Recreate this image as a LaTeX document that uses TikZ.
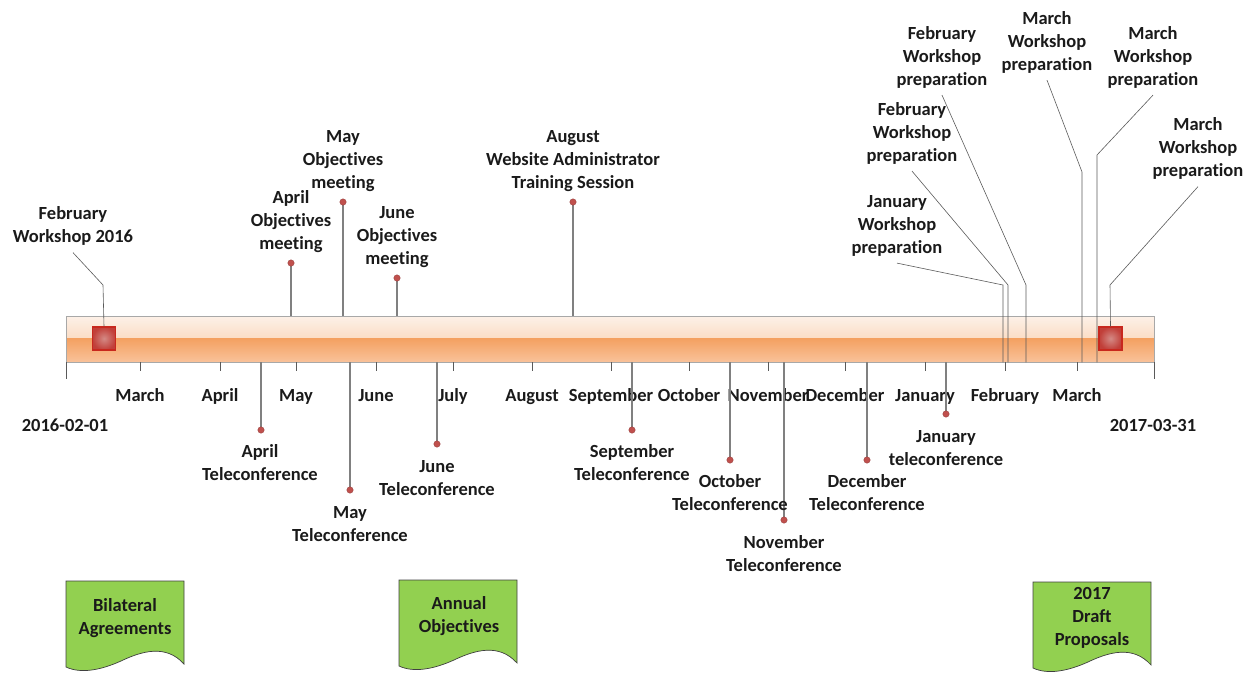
\documentclass[tikz,border=0pt]{standalone}
\usepackage{fontspec}
\setmainfont{Carlito}[RawFeature=-liga]
\definecolor{stemgray}{HTML}{808080}
\definecolor{callgray}{HTML}{5A5A5A}
\definecolor{dotred}{HTML}{C0504D}
\definecolor{barline}{HTML}{A8A8A8}
\definecolor{barA}{HTML}{FDF1E8}
\definecolor{barB}{HTML}{F8C7A0}
\definecolor{barC}{HTML}{F4A060}
\definecolor{barD}{HTML}{F9C29A}
\definecolor{sqin}{HTML}{D48A85}
\definecolor{sqout}{HTML}{C13F39}
\definecolor{sqline}{HTML}{C8281E}
\definecolor{docgreen}{HTML}{92D050}
\definecolor{txt}{HTML}{1A1A1A}
\tikzset{
  lbl/.style={font=\bfseries\fontsize{18.5}{23}\selectfont, align=center, inner sep=0pt, anchor=base, text=txt},
  doclbl/.style={font=\bfseries\fontsize{18.5}{23}\selectfont, align=center, inner sep=0pt, anchor=base, text=txt},
  stem/.style={draw=stemgray, line width=1.1pt},
  callout/.style={draw=callgray, line width=0.6pt},
  tickline/.style={draw=callgray, line width=0.9pt},
  evdot/.style={circle, fill=dotred, draw=dotred!75!black, line width=0.3pt, inner sep=0pt, minimum size=6.5pt},
  sq/.style={rectangle, inner color=sqin, outer color=sqout, draw=sqline, line width=1.2pt, minimum width=23pt, minimum height=23pt, inner sep=0pt},
  barbox/.style={rectangle, draw=barline, line width=0.8pt, minimum width=1088pt, minimum height=46pt, inner sep=0pt,
    path picture={
      \shade[top color=barA, bottom color=barB] (path picture bounding box.north west) rectangle ([yshift=1pt]path picture bounding box.east);
      \shade[top color=barC, bottom color=barD] ([yshift=1pt]path picture bounding box.west) rectangle (path picture bounding box.south east);
    }},
  docshape/.pic={
    \draw[fill=docgreen, draw=black!75, line width=0.7pt]
      (0,0) -- (118,0) -- (118,83)
      .. controls (100,63) and (76,70) .. (55,80)
      .. controls (35,89) and (15,93) .. (0,86) -- cycle;
  }
}
\begin{document}
\begin{tikzpicture}[x=1pt,y=-1pt]
\useasboundingbox (0,0) rectangle (1250,675);

% ---------- bar ----------
\node[barbox] (bar) at (610,339) {};

% ---------- month ticks and labels ----------
\coordinate (tstart) at (66,362);
\coordinate (tend) at (1154,362);
\draw[tickline] (tstart) -- ++(0,17);
\draw[tickline] (tend) -- ++(0,17);
\foreach \x/\m/\n in {140/March/mar, 220/April/apr, 296/May/may, 376/June/jun, 453/July/jul, 532/August/aug, 611/September/sep, 689/October/oct, 768/November/nov, 845/December/dec, 925/January/jan, 1005/February/feb, 1077/March/marb}{
  \coordinate (t\n) at (\x,362);
  \draw[tickline] (t\n) -- ++(0,9);
  \node[lbl] (m\n) at (\x,401) {\m};
}
\node[lbl] (dstart) at (65,431) {2016-02-01};
\node[lbl] (dend) at (1153,431) {2017-03-31};

% ---------- events above the bar ----------
\coordinate (aprObjD) at (291,263);
\coordinate (mayObjD) at (343,202);
\coordinate (junObjD) at (397,278);
\coordinate (augD) at (573,202);
\draw[stem] (aprObjD) -- (aprObjD |- bar.north);
\draw[stem] (mayObjD) -- (mayObjD |- bar.north);
\draw[stem] (junObjD) -- (junObjD |- bar.north);
\draw[stem] (augD) -- (augD |- bar.north);
\node[evdot] (aprObjDot) at (aprObjD) {};
\node[evdot] (mayObjDot) at (mayObjD) {};
\node[evdot] (junObjDot) at (junObjD) {};
\node[evdot] (augDot) at (augD) {};
\node[lbl] (aprObj) at (291,249) {April\\Objectives\\meeting};
\node[lbl] (mayObj) at (343,188) {May\\Objectives\\meeting};
\node[lbl] (junObj) at (397,264) {June\\Objectives\\meeting};
\node[lbl] (aug) at (573,188) {August\\Website Administrator\\Training Session};

% ---------- events below the bar ----------
\foreach \n/\x/\y in {aprT/261/430, mayT/350/490, junT/437/444, sepT/632/430, octT/730/460, novT/784/520, decT/867/460, janT/946/414}{
  \coordinate (\n D) at (\x,\y);
  \draw[stem] (\n D) -- (\n D |- bar.south);
  \node[evdot] (\n Dot) at (\n D) {};
}
\node[lbl] (aprT) at (260,480) {April\\Teleconference};
\node[lbl] (mayT) at (350,541) {May\\Teleconference};
\node[lbl] (junT) at (437,495) {June\\Teleconference};
\node[lbl] (sepT) at (632,480) {September\\Teleconference};
\node[lbl] (octT) at (730,510) {October\\Teleconference};
\node[lbl] (novT) at (784,571) {November\\Teleconference};
\node[lbl] (decT) at (867,510) {December\\Teleconference};
\node[lbl] (janT) at (946,465) {January\\teleconference};

% ---------- workshops ----------
\node[sq] (sq1) at (104,338.5) {};
\node[sq] (sq2) at (1110.5,338.5) {};

\node[lbl] (feb16) at (73,242) {February\\Workshop 2016};
\node[lbl] (janW) at (897,253) {January\\Workshop\\preparation};
\node[lbl] (febW1) at (912,161) {February\\Workshop\\preparation};
\node[lbl] (febW2) at (942,85) {February\\Workshop\\preparation};
\node[lbl] (marW1) at (1047,70) {March\\Workshop\\preparation};
\node[lbl] (marW2) at (1153,85) {March\\Workshop\\preparation};
\node[lbl] (marW3) at (1198,176) {March\\Workshop\\preparation};

\coordinate (b0) at (103,285);
\coordinate (b1) at (1003,285);
\coordinate (b2) at (1008,285);
\coordinate (b3) at (1026,285);
\coordinate (b4) at (1082,172);
\coordinate (b5) at (1097,155);
\coordinate (b6) at (1110,285);

\draw[callout] ([yshift=-7.5pt]feb16.south) -- (b0) -- (sq1.north);
\draw[callout] ([yshift=-7pt]janW.south) -- (b1) -- (b1 |- bar.south);
\draw[callout] ([yshift=-7pt]febW1.south) -- (b2) -- (b2 |- bar.south);
\draw[callout] ([yshift=-7pt]febW2.south) -- (b3) -- (b3 |- bar.south);
\draw[callout] ([yshift=-7pt]marW1.south) -- (b4) -- (b4 |- bar.south);
\draw[callout] ([yshift=-7pt]marW2.south) -- (b5) -- (b5 |- bar.south);
\draw[callout] ([yshift=-7.5pt]marW3.south) -- (b6) -- (sq2.north);

% ---------- documents ----------
\pic at (66,581) {docshape};
\pic at (399,580) {docshape};
\pic at (1033,582) {docshape};
\node[doclbl] (bilat) at (125,634) {Bilateral\\Agreements};
\node[doclbl] (annual) at (459,632) {Annual\\Objectives};
\node[doclbl] (draft) at (1092,645) {2017\\Draft\\Proposals};
\end{tikzpicture}
\end{document}
